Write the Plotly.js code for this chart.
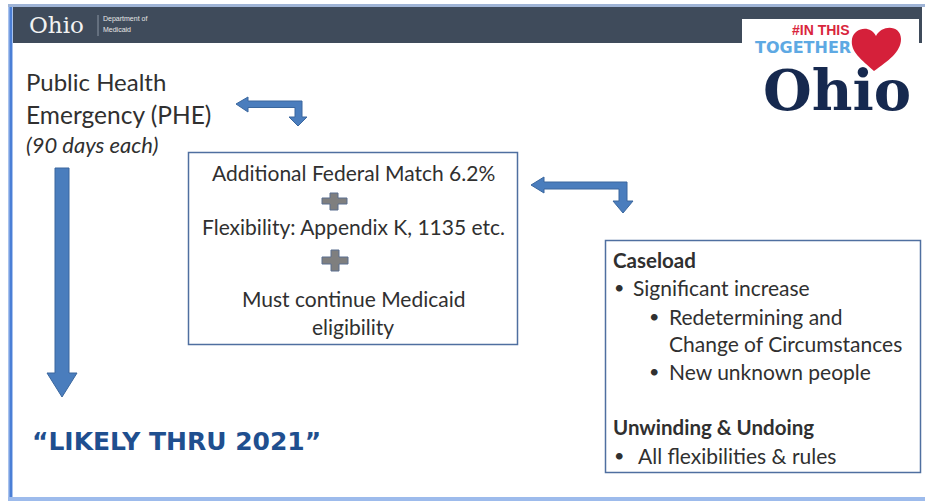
<!DOCTYPE html>
<html><head><meta charset="utf-8">
<script src="https://cdn.plot.ly/plotly-3.0.1.min.js"></script>
<style>html,body{margin:0;padding:0;background:#fff}#c{width:925px;height:501px}</style>
</head><body><div id="c"></div>
<script>
// Text content (slide)
const phe_lines = ["Public Health", "Emergency (PHE)"];
const phe_note = "(90 days each)";
const center_lines = ["Additional Federal Match 6.2%", "Flexibility: Appendix K, 1135 etc.", "Must continue Medicaid", "eligibility"];
const caseload_head = "Caseload";
const caseload_items = ["Significant increase", "Redetermining and", "Change of Circumstances", "New unknown people"];
const caseload_levels = [1, 2, 0, 2];
const unwind_head = "Unwinding & Undoing";
const unwind_items = ["All flexibilities & rules"];
const likely_text = "\u201CLIKELY THRU 2021\u201D";
const header_labels = ["Ohio", "Department of", "Medicaid"];
const logo_labels = ["#IN THIS", "TOGETHER", "Ohio"];

const F = "Lato, 'Noto Sans', sans-serif";
const TXT = "#303030";
const ann = [];
function t(x, y, text, size, opts) {
  opts = opts || {};
  ann.push(Object.assign({x: x, y: y, xref: 'x', yref: 'y', text: text, showarrow: false,
    xanchor: 'left', yanchor: 'middle', borderpad: 0}, opts,
    {font: Object.assign({family: F, size: size, color: TXT}, opts.font || {})}));
}

// left text
t(25, 81, phe_lines[0], 24);
t(25, 114, phe_lines[1], 24.5);
t(25, 144, "<i>" + phe_note + "</i>", 22);

// center box text
const cy = [172, 226, 298, 326];
center_lines.forEach((s, i) => t(353, cy[i], s, 21, {xanchor: 'center'}));

// right box
t(612, 260, "<b>" + caseload_head + "</b>", 20.5);
const ry = [287, 316, 343, 371];
caseload_items.forEach((s, i) => {
  const lvl = caseload_levels[i];
  const tx = lvl === 1 ? 632 : 668;
  if (lvl === 1) t(613, ry[i], "\u2022", 18);
  if (lvl === 2) t(648, ry[i], "\u2022", 18);
  t(tx, ry[i], s, 21);
});
t(612, 427, "<b>" + unwind_head + "</b>", 20.5);
t(613, 455, "\u2022", 18);
t(637, 455, unwind_items[0], 21);

// likely
t(31, 441, "<b>" + likely_text + "</b>", 25, {font: {family: "'DejaVu Sans', sans-serif", color: '#1f4f8f'}});

// header
t(28, 25, header_labels[0], 23, {font: {family: "'DejaVu Serif', serif", color: '#f2f2f2'}});
t(102, 19, header_labels[1], 7, {font: {family: "'Liberation Sans', sans-serif", color: '#e6e6e6'}});
t(102, 29, header_labels[2], 7, {font: {family: "'Liberation Sans', sans-serif", color: '#e6e6e6'}});

// logo
t(851, 29.5, "<b>" + logo_labels[0] + "</b>", 14, {xanchor: 'right', font: {family: "'Liberation Sans', sans-serif", color: '#d9263d'}});
t(852, 47, "<b>" + logo_labels[1] + "</b>", 16, {xanchor: 'right', font: {family: "'DejaVu Sans', sans-serif", color: '#5ea9e3'}});
t(837, 90, "<b>" + logo_labels[2] + "</b>", 56, {xanchor: 'center', font: {family: "'DejaVu Serif', serif", color: '#16294f'}});

const ARROW = '#4a7dbd', ARROWL = '#3a679e';
const shapes = [
  // top light line
  {type: 'rect', x0: 8, x1: 925, y0: 4, y1: 7, fillcolor: '#9fb4d6', line: {width: 0}},
  // header bar
  {type: 'rect', x0: 12, x1: 922, y0: 7, y1: 43, fillcolor: '#3f4b5b', line: {width: 0}},
  // left line
  {type: 'rect', x0: 8, x1: 13, y0: 7, y1: 499, fillcolor: '#a9c3ee', line: {width: 0}},
  {type: 'rect', x0: 9.5, x1: 12, y0: 7, y1: 499, fillcolor: '#4b7fd6', line: {width: 0}},
  // bottom line
  {type: 'rect', x0: 8, x1: 925, y0: 497, y1: 501, fillcolor: '#9dbbec', line: {width: 0}},
  // header divider
  {type: 'line', x0: 98, x1: 98, y0: 15, y1: 36, line: {color: '#8a95a3', width: 1}},
  // logo white box
  {type: 'rect', x0: 742, x1: 919, y0: 19, y1: 112, fillcolor: '#ffffff', line: {width: 0}},
  // heart
  {type: 'path', path: 'M 874 71 C 862 60 850 52 852 39 C 854 28 870 24 876 36 C 882 24 901 25 901 39 C 901 52 888 61 874 71 Z', fillcolor: '#d5203a', line: {width: 0}},
  // boxes
  {type: 'rect', x0: 188.5, x1: 517.5, y0: 152.5, y1: 344.5, line: {color: '#4f6fa0', width: 1.5}, fillcolor: 'rgba(0,0,0,0)'},
  {type: 'rect', x0: 605.5, x1: 920.5, y0: 240.5, y1: 472.5, line: {color: '#4f6fa0', width: 1.5}, fillcolor: 'rgba(0,0,0,0)'},
  // down arrow
  {type: 'path', path: 'M 55 168 L 69 168 L 69 373 L 77 373 L 62 397 L 47 373 L 55 373 Z', fillcolor: ARROW, line: {color: ARROWL, width: 1}},
  // bent arrow 1
  {type: 'path', path: 'M 236 104 L 248 97 L 248 101 L 302 101 L 302 117 L 307 117 L 298 126 L 289 117 L 295 117 L 295 107.5 L 248 107.5 L 248 112 Z', fillcolor: ARROW, line: {color: ARROWL, width: 1}},
  // bent arrow 2
  {type: 'path', path: 'M 531 185 L 544 177 L 544 182 L 627 182 L 627 201 L 633 201 L 623 213 L 613 201 L 619 201 L 619 189 L 544 189 L 544 193 Z', fillcolor: ARROW, line: {color: ARROWL, width: 1}},
  // plus 1
  {type: 'path', path: 'M 330 193 L 338 193 L 338 198 L 347 198 L 347 204 L 338 204 L 338 210 L 330 210 L 330 204 L 322 204 L 322 198 L 330 198 Z', fillcolor: '#7f7f7f', line: {color: '#5a6f8f', width: 1}},
  // plus 2
  {type: 'path', path: 'M 331 250 L 339 250 L 339 257 L 348 257 L 348 264 L 339 264 L 339 271 L 331 271 L 331 264 L 322 264 L 322 257 L 331 257 Z', fillcolor: '#7f7f7f', line: {color: '#5a6f8f', width: 1}}
];

const layout = {
  width: 925, height: 501, margin: {l: 0, r: 0, t: 0, b: 0},
  paper_bgcolor: '#ffffff', plot_bgcolor: '#ffffff', showlegend: false,
  xaxis: {range: [0, 925], visible: false, fixedrange: true},
  yaxis: {range: [501, 0], visible: false, fixedrange: true},
  shapes: shapes, annotations: ann
};
Plotly.newPlot('c', [{x: [], y: [], type: 'scatter'}], layout, {staticPlot: true});
</script></body></html>
